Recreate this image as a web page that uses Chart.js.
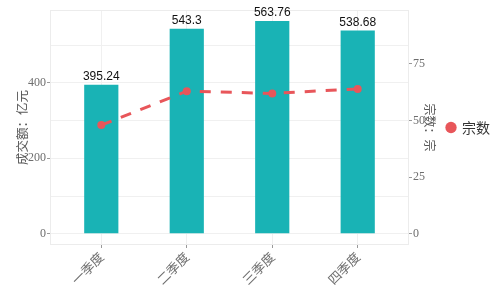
<!DOCTYPE html>
<html>
<head>
<meta charset="utf-8">
<script src="https://cdn.jsdelivr.net/npm/chart.js@4/dist/chart.umd.min.js"></script>
<style>
html,body{margin:0;padding:0;background:#fff;}
#wrap{width:500px;height:307px;position:relative;}
</style>
</head>
<body>
<div id="wrap"><canvas id="c" width="500" height="307"></canvas></div>
<script>
// ---- data ----
const categories = ['一季度', '二季度', '三季度', '四季度'];
const amountValues = [395.24, 543.3, 563.76, 538.68];   // 成交额：亿元
const countValues = [48, 63, 62, 64];                   // 宗数：宗
const leftTicks = [0, 200, 400];
const leftGrid = [0, 100, 200, 300, 400, 500];
const rightTicks = [0, 25, 50, 75];

const SERIF = "'Liberation Serif','Noto Sans CJK SC',serif";
const CJK = "'Noto Sans CJK SC','Liberation Serif',serif";
const TICK_COLOR = '#6e6e6e';
const GRID_COLOR = '#f0f0f0';
const BAR_COLOR = '#19b3b5';
const LINE_COLOR = '#e8565a';

const panelPlugin = {
  id: 'panel',
  beforeDatasetsDraw(chart) {
    const {ctx, chartArea: a} = chart;
    ctx.save();
    ctx.strokeStyle = '#ececec';
    ctx.lineWidth = 1;
    ctx.strokeRect(a.left + 0.5, a.top + 0.5, a.right - a.left - 1, a.bottom - a.top - 1);
    ctx.restore();
  }
};

const barLabelPlugin = {
  id: 'barLabels',
  afterDatasetsDraw(chart) {
    const {ctx} = chart;
    const meta = chart.getDatasetMeta(1);
    ctx.save();
    ctx.font = "12px 'Liberation Sans', Arial, sans-serif";
    ctx.fillStyle = '#111';
    ctx.textAlign = 'center';
    ctx.textBaseline = 'bottom';
    meta.data.forEach((el, i) => {
      ctx.fillText(String(amountValues[i]), el.x, el.y - 2);
    });
    ctx.restore();
  }
};

new Chart(document.getElementById('c'), {
  type: 'bar',
  data: {
    datasets: [
      {
        type: 'line',
        label: '宗数',
        data: countValues.map((v, i) => ({x: i, y: v})),
        yAxisID: 'y1',
        xAxisID: 'x',
        borderColor: LINE_COLOR,
        backgroundColor: LINE_COLOR,
        borderWidth: 3,
        borderDash: [11, 10],
        pointRadius: 4,
        pointHoverRadius: 4,
        pointBackgroundColor: LINE_COLOR,
        pointBorderWidth: 0,
        pointStyle: 'circle',
        tension: 0,
        order: 0
      },
      {
        type: 'bar',
        label: '成交额',
        data: amountValues.map((v, i) => ({x: i, y: v})),
        yAxisID: 'y',
        xAxisID: 'x',
        backgroundColor: BAR_COLOR,
        borderWidth: 0,
        barPercentage: 0.5,
        categoryPercentage: 0.8,
        order: 1
      }
    ]
  },
  options: {
    responsive: false,
    animation: false,
    devicePixelRatio: 1,
    layout: {padding: {top: 10, right: 0, bottom: 0, left: 0}},
    plugins: {
      tooltip: {enabled: false},
      legend: {
        display: true,
        position: 'right',
        fullSize: false,
        labels: {
          filter: (item) => item.text === '宗数',
          usePointStyle: true,
          pointStyle: 'circle',
          boxWidth: 8,
          boxHeight: 8,
          padding: 8,
          color: '#333',
          font: {family: CJK, size: 14}
        }
      }
    },
    scales: {
      x: {
        type: 'linear',
        position: 'bottom',
        offset: false,
        min: -0.6,
        max: 3.6,
        afterBuildTicks: (axis) => { axis.ticks = categories.map((c, i) => ({value: i})); },
        afterFit: (scale) => { scale.height = 62; },
        ticks: {
          autoSkip: false,
          minRotation: 45,
          maxRotation: 45,
          padding: 1,
          color: TICK_COLOR,
          font: {family: CJK, size: 13},
          callback: (v) => categories[v]
        },
        grid: {offset: false, color: GRID_COLOR, tickColor: '#999', tickLength: 3, lineWidth: 1},
        border: {display: false}
      },
      y: {
        type: 'linear',
        position: 'left',
        min: -29.6,
        max: 593,
        afterBuildTicks: (axis) => { axis.ticks = leftGrid.map(v => ({value: v})); },
        afterFit: (scale) => { scale.width = 50; },
        ticks: {
          padding: 1,
          color: TICK_COLOR,
          font: {family: SERIF, size: 12},
          callback: (v) => leftTicks.includes(v) ? String(v) : ''
        },
        grid: {
          color: GRID_COLOR,
          tickLength: 3,
          tickColor: (ctx) => leftTicks.includes(ctx.tick && ctx.tick.value) ? '#999' : 'rgba(0,0,0,0)'
        },
        border: {display: false},
        title: {
          display: true,
          text: '成交额：亿元',
          color: '#555',
          font: {family: CJK, size: 12.5},
          padding: {top: 15, bottom: 0}
        }
      },
      y1: {
        type: 'linear',
        position: 'right',
        min: -4.93,
        max: 98.83,
        afterBuildTicks: (axis) => { axis.ticks = rightTicks.map(v => ({value: v})); },
        afterFit: (scale) => { scale.width = 30; },
        ticks: {
          padding: 1,
          color: TICK_COLOR,
          font: {family: SERIF, size: 12}
        },
        grid: {drawOnChartArea: false, tickLength: 3, tickColor: '#999'},
        border: {display: false},
        title: {
          display: true,
          text: '宗数：宗',
          color: '#555',
          font: {family: CJK, size: 12},
          padding: {top: 2, bottom: 0}
        }
      }
    }
  },
  plugins: [panelPlugin, barLabelPlugin]
});
</script>
</body>
</html>
